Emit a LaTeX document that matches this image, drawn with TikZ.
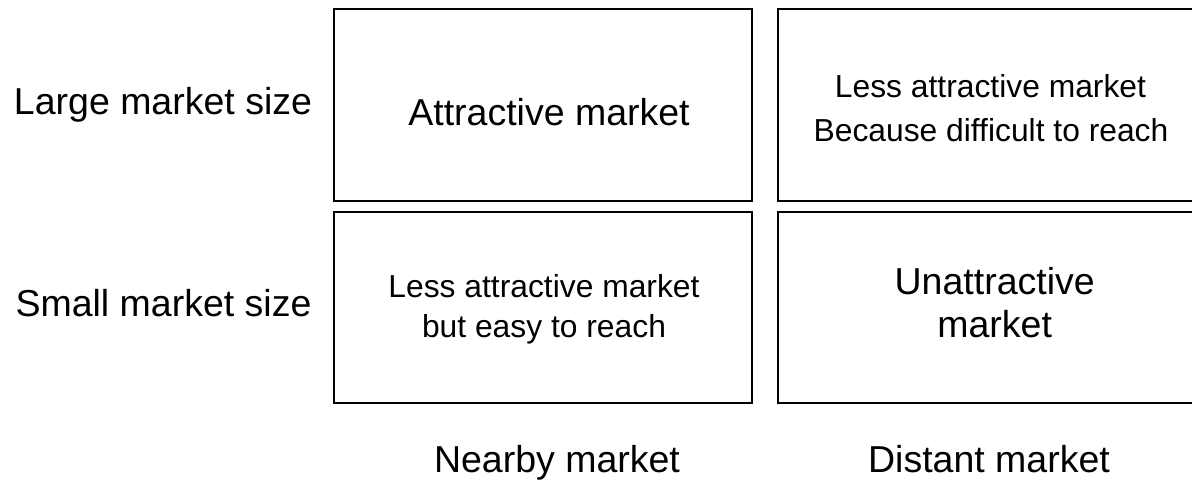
\documentclass[tikz,border=0pt]{standalone}
\usepackage{fontspec}
\setmainfont{Liberation Sans}
\begin{document}
\begin{tikzpicture}[x=1pt,y=1pt,
  cell/.style={draw=black, line width=2pt, inner sep=0pt, rectangle},
  big/.style={font=\fontsize{37.5}{45}\selectfont, anchor=base, inner sep=0pt},
  small/.style={font=\fontsize{31.8}{40}\selectfont, anchor=base, inner sep=0pt}]
\useasboundingbox (0,0) rectangle (1192,481);
% boxes
\node[cell, minimum width=418pt, minimum height=192pt] (tl) at (543,376) {};
\node[cell, minimum width=418pt, minimum height=192pt] (tr) at (987,376) {};
\node[cell, minimum width=418pt, minimum height=191pt] (bl) at (543,173.5) {};
\node[cell, minimum width=418pt, minimum height=191pt] (br) at (987,173.5) {};
% row labels
\node[big] (large) at (163,366) {Large market size};
\node[big] (smallsz) at (163.5,164) {Small market size};
% column labels
\node[big] (nearby) at (557,8) {Nearby market};
\node[big] (distant) at (989,8) {Distant market};
% cell texts
\node[big] (attr) at (549,355) {Attractive market};
\node[small] (tr1) at (990.5,383.3) {Less attractive market};
\node[small] (tr2) at (991,339.3) {Because difficult to reach};
\node[small] (bl1) at (544,183.3) {Less attractive market};
\node[small] (bl2) at (544,143) {but easy to reach};
\node[big] (br1) at (994.7,186) {Unattractive};
\node[big] (br2) at (994.7,143) {market};
\end{tikzpicture}
\end{document}
